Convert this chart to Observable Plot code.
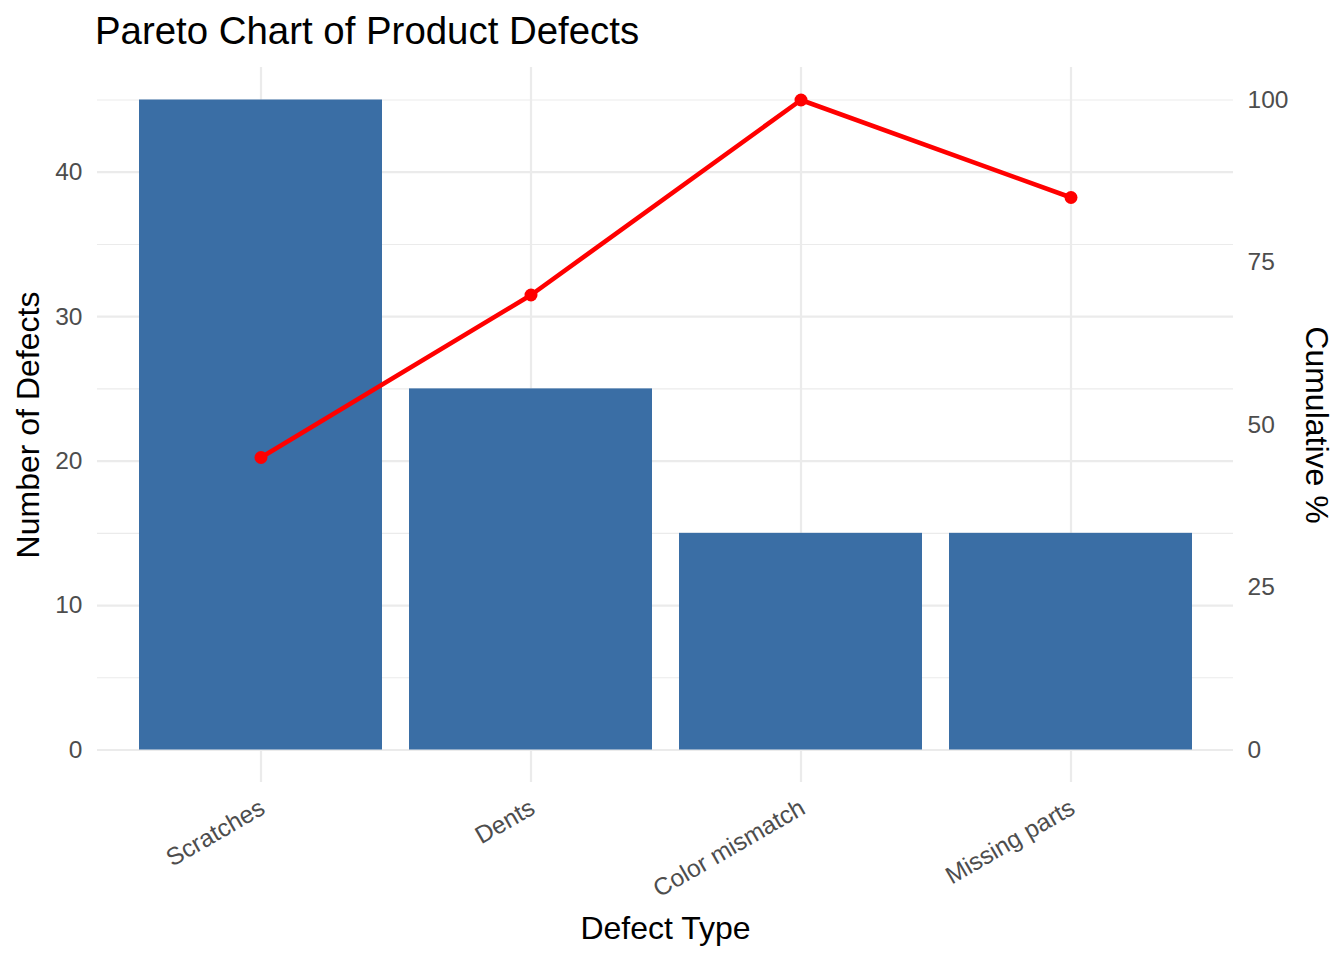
<!DOCTYPE html>
<html><head><meta charset="utf-8">
<script src="https://cdn.jsdelivr.net/npm/d3@7"></script>
<script src="https://cdn.jsdelivr.net/npm/@observablehq/plot@0.6"></script>
<style>
body{margin:0;background:#fff;font-family:"Liberation Sans",Arial,sans-serif;}
#title{height:60px;box-sizing:border-box;padding:11.5px 0 0 95px;font-size:38.4px;line-height:1;color:#000;white-space:nowrap;}
</style></head>
<body>
<div id="title">Pareto Chart of Product Defects</div>
<div id="chart"></div>
<script>
const categories = ["Scratches", "Dents", "Color mismatch", "Missing parts"];
const defects = [45, 25, 15, 15];
const cumulativePct = [45, 70, 100, 85];
const leftTicks = [0, 10, 20, 30, 40];
const minorTicks = [5, 15, 25, 35, 45];
const rightTicks = [0, 25, 50, 75, 100];
const scaleFactor = 0.45; // secondary axis: pct * 0.45 = count

const data = categories.map((c, i) => ({cat: c, n: defects[i], cum: cumulativePct[i]}));

const chart = Plot.plot({
  width: 1344,
  height: 900,
  marginTop: 7,
  marginBottom: 178,
  marginLeft: 97,
  marginRight: 111,
  style: {fontFamily: '"Liberation Sans", Arial, sans-serif', background: "#fff"},
  x: {domain: categories, paddingInner: 0.1, paddingOuter: 0.15, axis: null},
  y: {domain: [-2.25, 47.25], axis: null},
  marks: [
    Plot.ruleY(minorTicks, {stroke: "#ebebeb", strokeWidth: 1.1}),
    Plot.ruleY(leftTicks, {stroke: "#ebebeb", strokeWidth: 2.2}),
    Plot.ruleX(categories, {x: d => d, stroke: "#ebebeb", strokeWidth: 2.2}),
    Plot.barY(data, {x: "cat", y: "n", fill: "#3a6ea5"}),
    Plot.line(data, {x: "cat", y: d => d.cum * scaleFactor, stroke: "#ff0000", strokeWidth: 4.6}),
    Plot.dot(data, {x: "cat", y: d => d.cum * scaleFactor, r: 6.5, fill: "#ff0000"}),
    Plot.axisY(leftTicks, {anchor: "left", tickSize: 0, tickPadding: 15, fontSize: 24.5, color: "#4d4d4d", label: null}),
    Plot.axisY(rightTicks.map(v => v * scaleFactor), {anchor: "right", tickSize: 0, tickPadding: 14, fontSize: 24.5, color: "#4d4d4d", tickFormat: d => String(Math.round(d / scaleFactor)), label: null}),
    Plot.text(categories, {x: d => d, text: d => d, frameAnchor: "bottom", dy: 15, dx: -3, rotate: -30, textAnchor: "end", lineAnchor: "top", fontSize: 24.5, fill: "#4d4d4d"}),
    Plot.text(["Defect Type"], {frameAnchor: "bottom", dy: 156, fontSize: 32, fill: "#000"}),
    Plot.text(["Number of Defects"], {frameAnchor: "left", dx: -69, rotate: -90, textAnchor: "middle", fontSize: 32, fill: "#000"}),
    Plot.text(["Cumulative %"], {frameAnchor: "right", dx: 83, rotate: 90, textAnchor: "middle", fontSize: 32, fill: "#000"})
  ]
});
document.getElementById("chart").appendChild(chart);
</script>
</body></html>
